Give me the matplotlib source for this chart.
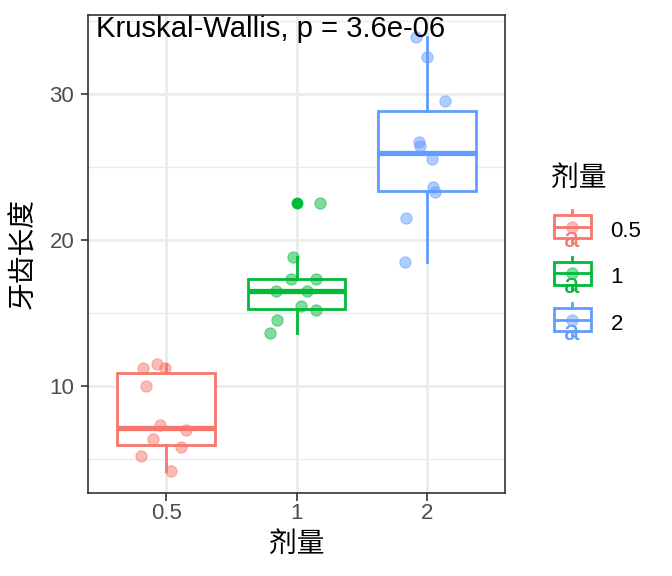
import matplotlib
matplotlib.use("Agg")
import matplotlib.pyplot as plt
from matplotlib.patches import Rectangle
from matplotlib.lines import Line2D
import numpy as np

plt.rcParams['font.family'] = ['Liberation Sans', 'Noto Sans CJK SC', 'DejaVu Sans']

# ---- data (ToothGrowth, VC subset) ----
doses = ["0.5", "1", "2"]
colors = ["#F8766D", "#00BA38", "#619CFF"]
dose05_len = [11.2, 11.5, 11.2, 10.0, 7.3, 7.0, 6.4, 5.8, 5.2, 4.2]
dose05_dx = [-0.18, -0.07, -0.01, -0.156, -0.05, 0.15, -0.10, 0.115, -0.19, 0.04]
dose1_len = [18.8, 17.3, 17.3, 16.5, 16.5, 15.5, 15.2, 14.5, 13.6, 22.5]
dose1_dx = [-0.03, -0.04, 0.146, -0.156, 0.08, 0.033, 0.15, -0.15, -0.20, 0.18]
dose2_len = [33.9, 32.5, 29.5, 26.7, 26.4, 25.5, 23.6, 23.3, 21.5, 18.5]
dose2_dx = [-0.085, 0.0, 0.14, -0.06, -0.055, 0.04, 0.045, 0.06, -0.16, -0.17]
y_ticks = [10, 20, 30]
y_minor = [5, 15, 25, 35]
title_text = "Kruskal-Wallis, p = 3.6e-06"
x_label = "剂量"
y_label = "牙齿长度"
legend_title = "剂量"

groups = [dose05_len, dose1_len, dose2_len]
jitters = [dose05_dx, dose1_dx, dose2_dx]

W, H = 672, 576
fig = plt.figure(figsize=(W / 100, H / 100), dpi=100)
L, R, T, B = 88, 505, 15, 492.5
ax = fig.add_axes([L / W, 1 - B / H, (R - L) / W, (B - T) / H])

all_vals = np.concatenate(groups)
rng = all_vals.max() - all_vals.min()
ax.set_ylim(all_vals.min() - 0.05 * rng, all_vals.max() + 0.05 * rng)
ax.set_xlim(0.4, 3.6)

# grid
grid_c = "#EBEBEB"
for yv in y_minor:
    ax.axhline(yv, color=grid_c, lw=1.0, zorder=0)
for yv in y_ticks:
    ax.axhline(yv, color=grid_c, lw=1.9, zorder=0)
for xv in [1, 2, 3]:
    ax.axvline(xv, color=grid_c, lw=1.9, zorder=0)

# boxplots
for i, (vals, col) in enumerate(zip(groups, colors)):
    ax.boxplot([vals], positions=[i + 1], widths=0.75, whis=1.5,
               patch_artist=True, manage_ticks=False,
               boxprops=dict(facecolor="white", edgecolor=col, linewidth=2.0),
               medianprops=dict(color=col, linewidth=3.8, solid_capstyle="butt"),
               whiskerprops=dict(color=col, linewidth=2.0),
               capprops=dict(linewidth=0),
               capwidths=0,
               flierprops=dict(marker="o", markerfacecolor=col, markeredgecolor=col,
                               markersize=8, markeredgewidth=0.5),
               zorder=2)

# jittered points
for i, (vals, dx, col) in enumerate(zip(groups, jitters, colors)):
    xs = [i + 1 + d for d in dx]
    ax.scatter(xs, vals, s=66, color=col, alpha=0.5, edgecolors=col,
               linewidths=0.8, zorder=3)

ax.text(0.461, 33.86, title_text, ha="left", va="baseline", fontsize=21.1,
        color="black", zorder=4)

ax.set_xticks([1, 2, 3])
ax.set_xticklabels(doses)
ax.set_yticks(y_ticks)
ax.tick_params(axis="both", length=5.4, width=1.2, color="#333333",
               labelcolor="#4D4D4D", labelsize=16)
ax.tick_params(axis="x", pad=2.5)
ax.tick_params(axis="y", pad=4.5)
for sp in ax.spines.values():
    sp.set_color("#333333")
    sp.set_linewidth(1.2)
    sp.set_zorder(5)

fig.text(24 / W, 1 - 253.5 / H, y_label, rotation=90, ha="center", va="center",
         fontsize=20, color="black")
fig.text(296.5 / W, 1 - 545 / H, x_label, ha="center", va="center",
         fontsize=20, color="black")

# legend drawn in pixel coordinates
lax = fig.add_axes([0, 0, 1, 1], zorder=10)
lax.set_xlim(0, W)
lax.set_ylim(H, 0)
lax.axis("off")
lax.text(551, 179, legend_title, ha="left", va="center", fontsize=20, color="black")
key_centers = [226.7, 273.2, 319.7]
for yc, lab, col in zip(key_centers, doses, colors):
    x0, x1 = 553.5, 590.5
    xc = (x0 + x1) / 2
    lax.add_patch(Rectangle((x0, yc - 11.7), x1 - x0, 23.4, facecolor="white",
                            edgecolor=col, lw=2.0))
    lax.add_line(Line2D([xc, xc], [yc - 16.7, yc - 11.7], color=col, lw=2.0))
    lax.add_line(Line2D([xc, xc], [yc + 11.7, yc + 16.7], color=col, lw=2.0))
    lax.add_line(Line2D([x0, x1], [yc, yc], color=col, lw=2.0))
    lax.scatter([xc], [yc], s=66, color=col, alpha=0.5, edgecolors=col, linewidths=0.8)
    lax.text(xc, yc + 20, "a", ha="center", va="baseline", fontsize=20, color=col)
    lax.text(610.5, yc + 10, lab, ha="left", va="baseline", fontsize=16, color="black")

fig.savefig("out.png", dpi=100)
